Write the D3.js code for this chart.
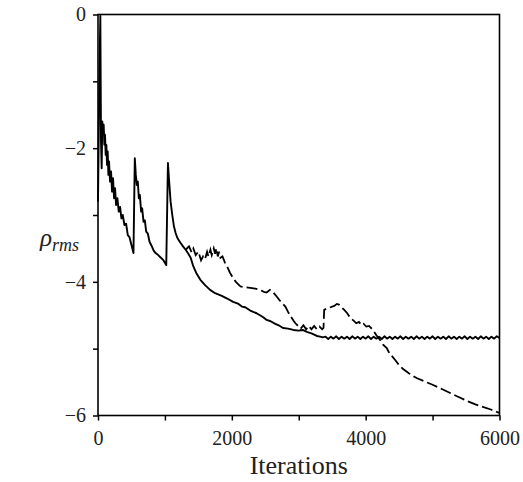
<!DOCTYPE html>
<html><head><meta charset="utf-8">
<script src="https://cdn.jsdelivr.net/npm/d3@7"></script>
<style>body{margin:0;background:#fff}svg{display:block}</style>
</head><body>
<svg id="c" width="523" height="482"></svg>
<script>
// ---- data ----
const xTicks = [0, 1000, 2000, 3000, 4000, 5000, 6000];
const xTickLabels = ["0", "", "2000", "", "4000", "", "6000"];
const yTicks = [0, -1, -2, -3, -4, -5, -6];
const yTickLabels = ["0", "", "\u22122", "", "\u22124", "", "\u22126"];

// solid curve: [iteration, log10 rho_rms]
const solidSeries = [
  [0,-2.8],[20,-1.0],[35,-0.02],[45,-1.9],[55,-2.3],[64,-1.6],[75,-1.75],[85,-1.65],[95,-1.95],
  [105,-1.8],[115,-2.1],[125,-1.95],[135,-2.25],[145,-2.05],[155,-2.4],[165,-2.2],[180,-2.5],
  [195,-2.35],[210,-2.65],[225,-2.45],[240,-2.75],[255,-2.6],[270,-2.85],[290,-2.75],[310,-2.95],
  [330,-2.88],[350,-3.05],[370,-3.0],[395,-3.15],[420,-3.13],[445,-3.3],[470,-3.33],[500,-3.45],
  [530,-3.57],[550,-2.15],[565,-2.4],[580,-2.55],[595,-2.5],[610,-2.75],[625,-2.7],[645,-2.95],
  [660,-2.9],[680,-3.1],[700,-3.08],[720,-3.25],[745,-3.28],[770,-3.4],[800,-3.46],[830,-3.53],
  [860,-3.57],[900,-3.6],[940,-3.64],[980,-3.68],[1020,-3.75],[1045,-2.22],[1060,-2.45],
  [1085,-2.8],[1110,-3.0],[1135,-3.17],[1160,-3.27],[1185,-3.34],[1210,-3.38],[1235,-3.42],
  [1270,-3.47],[1310,-3.52],[1350,-3.58],[1385,-3.64],[1425,-3.77],[1475,-3.88],[1530,-3.97],
  [1600,-4.05],[1675,-4.12],[1750,-4.17],[1850,-4.21],[1930,-4.25],[2020,-4.3],[2100,-4.33],
  [2150,-4.37],[2200,-4.38],[2275,-4.43],[2320,-4.45],[2370,-4.47],[2420,-4.5],[2470,-4.53],
  [2520,-4.57],[2580,-4.59],[2650,-4.63],[2700,-4.65],[2765,-4.69],[2840,-4.7],[2920,-4.72],
  [3000,-4.73],[3060,-4.72],[3120,-4.75],[3190,-4.77],[3270,-4.81],[3320,-4.82],[3360,-4.83],
  [3400,-4.82],[3440,-4.855],[3480,-4.82],[3520,-4.85],[3560,-4.815],[3600,-4.855],[3640,-4.82],
  [3680,-4.85],[3720,-4.82],[3760,-4.855],[3800,-4.815],[3840,-4.85],[3880,-4.82],[3920,-4.855],
  [3960,-4.82],[4000,-4.85],[4040,-4.815],[4080,-4.855],[4120,-4.82],[4160,-4.85],[4200,-4.82],
  [4240,-4.855],[4280,-4.815],[4320,-4.85],[4360,-4.82],[4400,-4.855],[4440,-4.82],[4480,-4.85],
  [4520,-4.815],[4560,-4.855],[4600,-4.82],[4640,-4.85],[4680,-4.82],[4720,-4.855],[4760,-4.815],
  [4800,-4.85],[4840,-4.82],[4880,-4.855],[4920,-4.82],[4960,-4.85],[5000,-4.815],[5040,-4.855],
  [5080,-4.82],[5120,-4.85],[5160,-4.82],[5200,-4.855],[5240,-4.815],[5280,-4.85],[5320,-4.82],
  [5360,-4.855],[5400,-4.82],[5440,-4.85],[5480,-4.815],[5520,-4.855],[5560,-4.82],[5600,-4.85],
  [5640,-4.82],[5680,-4.855],[5720,-4.815],[5760,-4.85],[5800,-4.82],[5840,-4.855],[5880,-4.82],
  [5920,-4.85],[5960,-4.815],[6000,-4.84]
];

// dashed curve: [iteration, log10 rho_rms]
const dashedSeries = [
  [1310,-3.52],[1360,-3.47],[1400,-3.56],[1425,-3.5],[1460,-3.6],[1500,-3.55],[1540,-3.68],
  [1570,-3.62],[1600,-3.66],[1630,-3.55],[1650,-3.62],[1680,-3.52],[1700,-3.6],[1730,-3.5],
  [1750,-3.58],[1770,-3.5],[1790,-3.62],[1810,-3.55],[1830,-3.64],[1860,-3.62],[1900,-3.72],
  [1930,-3.77],[1970,-3.86],[2005,-3.92],[2060,-4.0],[2130,-4.07],[2200,-4.08],[2275,-4.09],
  [2350,-4.1],[2420,-4.12],[2480,-4.15],[2520,-4.16],[2570,-4.12],[2620,-4.16],[2670,-4.22],
  [2725,-4.29],[2800,-4.37],[2840,-4.45],[2875,-4.51],[2920,-4.58],[2950,-4.62],[2990,-4.66],
  [3030,-4.70],[3070,-4.65],[3110,-4.71],[3150,-4.66],[3190,-4.71],[3230,-4.66],[3270,-4.71],
  [3310,-4.67],[3350,-4.71],[3370,-4.69],[3380,-4.42],[3420,-4.40],[3475,-4.38],[3530,-4.36],
  [3570,-4.33],[3600,-4.34],[3640,-4.38],[3680,-4.42],[3725,-4.47],[3770,-4.54],[3820,-4.58],
  [3860,-4.62],[3900,-4.60],[3940,-4.65],[3970,-4.63],[4010,-4.67],[4050,-4.66],[4110,-4.72],
  [4160,-4.80],[4215,-4.87],[4260,-4.94],[4315,-4.99],[4360,-5.08],[4400,-5.12],[4450,-5.18],
  [4500,-5.25],[4555,-5.3],[4650,-5.37],[4760,-5.44],[4880,-5.49],[5000,-5.54],[5130,-5.6],
  [5255,-5.66],[5380,-5.72],[5510,-5.78],[5630,-5.83],[5750,-5.87],[5870,-5.91],[5970,-5.95],
  [6000,-5.96]
];

// ---- drawing ----
const svg = d3.select("#c");
const x = d3.scaleLinear().domain([0, 6000]).range([98, 499.5]);
const y = d3.scaleLinear().domain([-6, 0]).range([415.5, 14.5]);
const font = "'Liberation Serif','Times New Roman',serif";

const line = d3.line().x(d => x(d[0])).y(d => y(d[1]));

svg.append("path").datum(solidSeries).attr("d", line)
  .attr("fill", "none").attr("stroke", "#000").attr("stroke-width", 1.9)
  .attr("stroke-linejoin", "round");
svg.append("path").datum(dashedSeries).attr("d", line)
  .attr("fill", "none").attr("stroke", "#000").attr("stroke-width", 1.8)
  .attr("stroke-dasharray", "11,4");

// frame
svg.append("rect").attr("x", x(0)).attr("y", y(0))
  .attr("width", x(6000) - x(0)).attr("height", y(-6) - y(0))
  .attr("fill", "none").attr("stroke", "#000").attr("stroke-width", 1.6);

const xAxis = svg.append("g").attr("transform", `translate(0,${y(-6)})`)
  .call(d3.axisBottom(x).tickValues(xTicks).tickSize(5).tickSizeOuter(0).tickPadding(10)
    .tickFormat((d, i) => xTickLabels[i]));
const yAxis = svg.append("g").attr("transform", `translate(${x(0)},0)`)
  .call(d3.axisLeft(y).tickValues(yTicks).tickSize(5).tickSizeOuter(0).tickPadding(7)
    .tickFormat((d, i) => yTickLabels[i]));
[xAxis, yAxis].forEach(g => {
  g.select(".domain").remove();
  g.selectAll("line").attr("stroke", "#000").attr("stroke-width", 1.5);
  g.selectAll("text").attr("font-family", font).attr("font-size", 20).attr("fill", "#222");
});

svg.append("text").attr("x", x(3000)).attr("y", 474).attr("text-anchor", "middle")
  .attr("font-family", font).attr("font-size", 26).attr("fill", "#222").text("Iterations");

const yl = svg.append("text").attr("x", 40).attr("y", 246)
  .attr("font-family", font).attr("font-style", "italic").attr("fill", "#222");
yl.append("tspan").attr("font-size", 25).text("\u03C1");
yl.append("tspan").attr("font-size", 18).attr("dy", 5).text("rms");
</script>
</body></html>
